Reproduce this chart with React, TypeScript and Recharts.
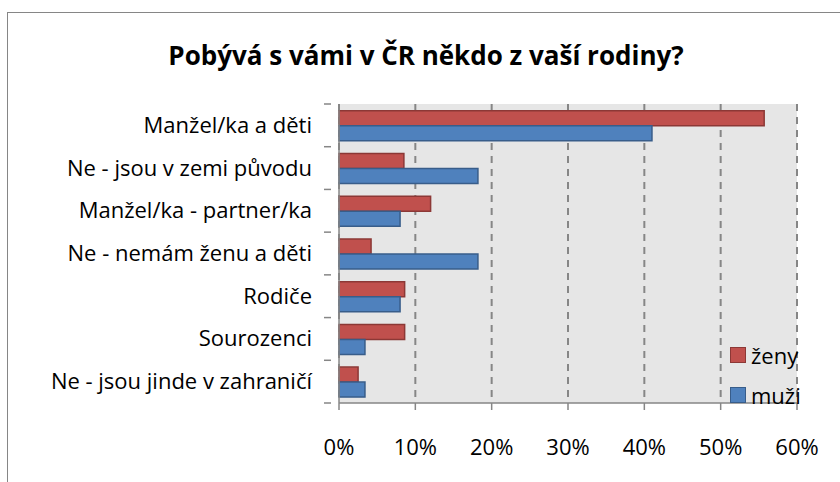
import { BarChart, Bar, XAxis, YAxis, CartesianGrid } from 'recharts';

// Pobývá s vámi v ČR někdo z vaší rodiny? (podíl odpovědí)
const categories = [
  'Manžel/ka a děti',
  'Ne - jsou v zemi původu',
  'Manžel/ka - partner/ka',
  'Ne - nemám ženu a děti',
  'Rodiče',
  'Sourozenci',
  'Ne - jsou jinde v zahraničí',
];
const zeny = [0.557, 0.085, 0.12, 0.042, 0.086, 0.086, 0.025];
const muzi = [0.41, 0.182, 0.08, 0.182, 0.08, 0.034, 0.034];
const xTicks = [0, 0.1, 0.2, 0.3, 0.4, 0.5, 0.6];

const series = [
  { key: 'zeny', name: 'ženy', fill: '#C0504D', stroke: '#8C3836' },
  { key: 'muzi', name: 'muži', fill: '#4F81BD', stroke: '#385D8A' },
];

const data = categories.map((name, i) => ({ name, zeny: zeny[i], muzi: muzi[i] }));

const FONT = '"Open Sans", "Noto Sans", sans-serif';
const GRID = '#868686';
const PLOT_TOP = 104;
const PLOT_BOTTOM = 403;
const BAND = (PLOT_BOTTOM - PLOT_TOP) / categories.length;

// popisek kategorie + značky na hranicích kategorií (jako v Excelu)
function CategoryTick(props: any) {
  const { x, y, payload, index, visibleTicksCount } = props;
  const last = index === visibleTicksCount - 1;
  return (
    <g>
      <line x1={x - 7} x2={x} y1={y - BAND / 2} y2={y - BAND / 2} stroke={GRID} strokeWidth={1.5} />
      {last && <line x1={x - 7} x2={x} y1={y + BAND / 2} y2={y + BAND / 2} stroke={GRID} strokeWidth={1.5} />}
      <text x={312} y={y} dy={7.5} textAnchor="end" fontSize={22} fill="#000" fontFamily={FONT}>
        {payload.value}
      </text>
    </g>
  );
}

function PercentTick(props: any) {
  const { x, payload } = props;
  return (
    <text x={x} y={447} dy={7.5} textAnchor="middle" fontSize={22} fill="#000" fontFamily={FONT}>
      {Math.round(payload.value * 100)}%
    </text>
  );
}

export default function App() {
  return (
    <div style={{ position: 'fixed', left: 0, top: 0, width: 840, height: 482, overflow: 'hidden', background: '#fff' }}>
      <div
        style={{
          position: 'absolute',
          left: 7,
          top: 12,
          width: 900,
          height: 600,
          border: '1.5px solid #868686',
        }}
      />
      <div
        style={{
          position: 'absolute',
          left: 0,
          top: 37,
          width: 852,
          textAlign: 'center',
          fontFamily: FONT,
          fontWeight: 700,
          fontSize: 26,
          lineHeight: '36px',
          color: '#000',
        }}
      >
        Pobývá s vámi v ČR někdo z vaší rodiny?
      </div>
      <div style={{ position: 'absolute', left: 0, top: 0 }}>
        <BarChart
          width={840}
          height={482}
          data={data}
          layout="vertical"
          margin={{ top: PLOT_TOP, right: 43, bottom: 39, left: 0 }}
          barCategoryGap="16%"
          barGap={0}
        >
          <CartesianGrid
            horizontal={false}
            stroke={GRID}
            strokeWidth={2}
            strokeDasharray="7 6"
            fill="#E6E6E6"
          />
          <XAxis
            type="number"
            domain={[0, 0.6]}
            ticks={xTicks}
            height={40}
            stroke={GRID}
            strokeWidth={1.5}
            tickSize={7}
            tick={<PercentTick />}
          />
          <YAxis
            type="category"
            dataKey="name"
            width={339}
            stroke={GRID}
            strokeWidth={1.5}
            tickLine={false}
            tick={<CategoryTick />}
            interval={0}
          />
          {series.map((s) => (
            <Bar
              key={s.key}
              dataKey={s.key}
              name={s.name}
              fill={s.fill}
              stroke={s.stroke}
              strokeWidth={1.5}
              isAnimationActive={false}
            />
          ))}
        </BarChart>
      </div>
      {/* legenda uvnitř plochy grafu */}
      <div style={{ position: 'absolute', left: 730, top: 335 }}>
        {series.map((s) => (
          <div key={s.key} style={{ display: 'flex', alignItems: 'center', height: 40 }}>
            <span
              style={{
                width: 14,
                height: 14,
                background: s.fill,
                border: `1.5px solid ${s.stroke}`,
                marginRight: 5,
              }}
            />
            <span style={{ fontSize: 22, fontFamily: FONT, color: '#000' }}>{s.name}</span>
          </div>
        ))}
      </div>
    </div>
  );
}
